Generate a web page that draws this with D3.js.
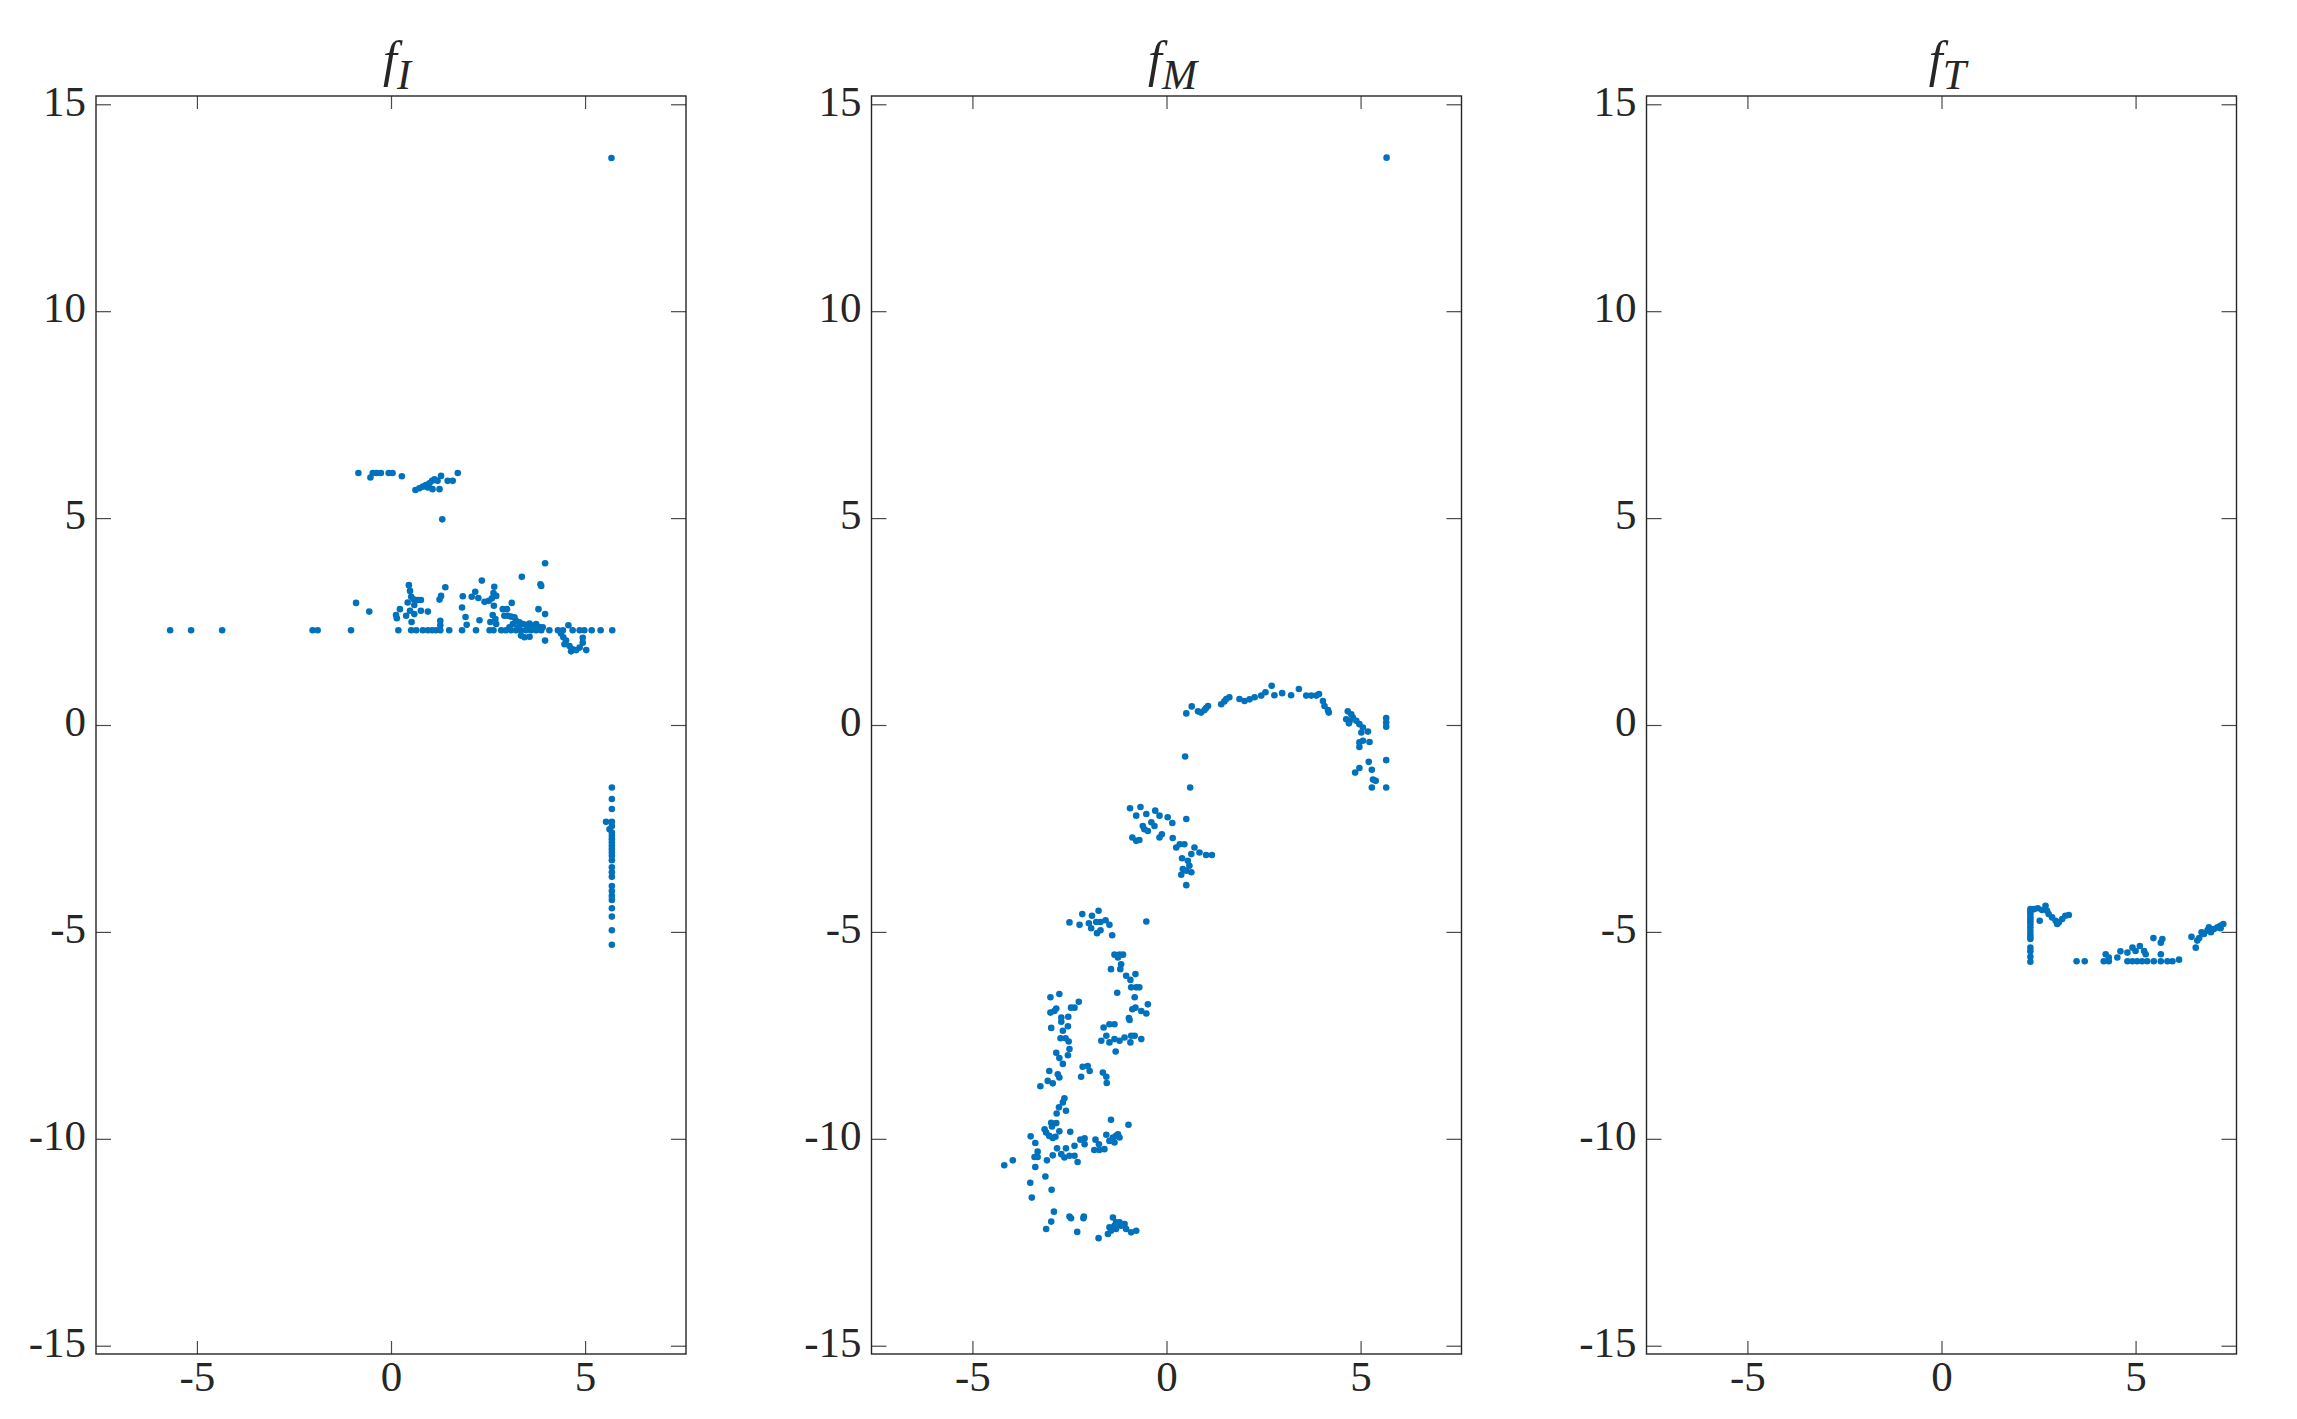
<!DOCTYPE html>
<html>
<head>
<meta charset="utf-8">
<script src="https://cdn.jsdelivr.net/npm/d3@7"></script>
<style>
  body { margin: 0; background: #fff; }
  svg text { font-family: "Liberation Serif", "DejaVu Serif", serif; fill: #262626; }
</style>
</head>
<body>
<div id="chart"></div>
<script>
const W = 2297, H = 1419;

const xTicks = [-5, 0, 5];
const yTicks = [-15, -10, -5, 0, 5, 10, 15];
const subscripts = ['I', 'M', 'T'];

// panel f_I
const fI = [
  [5.68, 13.70],
  [-0.84, 6.09], [-0.53, 5.98], [-0.47, 6.09], [-0.37, 6.09], [-0.26, 6.09], [-0.06, 6.09], [0.04, 6.09], [0.28, 6.01],
  [0.63, 5.68], [0.73, 5.72], [0.82, 5.76], [0.90, 5.80], [0.99, 5.84], [1.06, 5.90], [1.12, 5.94], [1.20, 5.90],
  [1.29, 6.02], [1.25, 5.70], [1.07, 5.70], [0.95, 5.74], [1.46, 5.90], [1.59, 5.90], [1.72, 6.09], [1.32, 4.97],
  [-5.69, 2.29], [-5.15, 2.29], [-4.35, 2.29], [-2.02, 2.29], [-1.89, 2.29], [-1.03, 2.29], [0.19, 2.29], [0.52, 2.29],
  [0.65, 2.29], [0.82, 2.29], [0.95, 2.29], [1.06, 2.29], [1.16, 2.29], [1.27, 2.29], [1.50, 2.29], [1.83, 2.29],
  [2.19, 2.29], [2.54, 2.29], [2.64, 2.29], [2.84, 2.29], [2.96, 2.29], [3.09, 2.29], [3.22, 2.29], [3.35, 2.29],
  [3.48, 2.29], [3.61, 2.29], [3.74, 2.29], [3.87, 2.29], [4.08, 2.29], [4.30, 2.29], [4.43, 2.29], [4.68, 2.29],
  [4.86, 2.29], [4.98, 2.29], [5.17, 2.29], [5.40, 2.29], [5.70, 2.29],
  [-0.90, 2.95], [-0.56, 2.74], [0.46, 3.38], [0.49, 3.24], [0.52, 3.10], [0.58, 3.04], [0.69, 3.02], [0.77, 3.02],
  [0.60, 2.90], [0.43, 2.96], [0.23, 2.80], [0.15, 2.58], [0.13, 2.66], [0.39, 2.64], [0.49, 2.76], [0.60, 2.68],
  [0.77, 2.76], [0.95, 2.74], [0.53, 2.49], [1.27, 2.52], [1.27, 2.41], [1.40, 3.33], [1.29, 3.12], [1.25, 3.03],
  [1.85, 3.11], [2.08, 3.10], [2.17, 3.22], [2.34, 3.49], [2.25, 3.07], [2.41, 2.98], [2.52, 3.00], [2.60, 3.06],
  [2.66, 3.34], [2.64, 3.19], [2.71, 3.12], [1.83, 2.84], [1.92, 2.61], [1.95, 2.42], [2.28, 2.53], [2.56, 2.49],
  [2.69, 2.56], [2.71, 2.44], [2.62, 2.66], [2.65, 2.88], [2.88, 2.80], [2.99, 2.80], [3.11, 2.95], [3.37, 3.58],
  [3.97, 3.91], [3.85, 3.40], [3.87, 3.36], [3.80, 2.80], [3.97, 2.68],
  [2.92, 2.64], [3.01, 2.64], [3.09, 2.62], [3.18, 2.60], [3.22, 2.52], [3.31, 2.48], [3.40, 2.44], [3.48, 2.42],
  [3.57, 2.45], [3.65, 2.40], [3.74, 2.44], [3.82, 2.37], [3.91, 2.36], [3.14, 2.44], [3.05, 2.36], [3.27, 2.36],
  [3.52, 2.34], [3.70, 2.32],
  [3.35, 2.16], [3.44, 2.12], [3.57, 2.13], [3.97, 2.04], [4.38, 2.21], [4.44, 2.12], [4.51, 2.04], [4.47, 1.95],
  [4.60, 1.91], [4.68, 1.83], [4.64, 1.78], [4.77, 1.81], [4.86, 1.87], [4.94, 1.99], [4.94, 2.11], [5.03, 1.81],
  [4.57, 2.41],
  [5.69, -1.51], [5.69, -1.79], [5.69, -2.03], [5.54, -2.34], [5.69, -2.34], [5.69, -2.44], [5.63, -2.52], [5.69, -2.60],
  [5.69, -2.68], [5.69, -2.76], [5.69, -2.84], [5.69, -2.92], [5.69, -3.00], [5.69, -3.08], [5.69, -3.16], [5.69, -3.27],
  [5.69, -3.44], [5.69, -3.56], [5.69, -3.67], [5.69, -3.89], [5.69, -4.01], [5.69, -4.13], [5.69, -4.23], [5.69, -4.43],
  [5.69, -4.63], [5.69, -4.96], [5.69, -5.31]
];

// panel f_M
const fM = [
  [5.67, 13.71],
  [0.51, 0.28], [0.65, 0.45], [0.81, 0.33], [0.89, 0.30], [0.98, 0.36], [1.07, 0.46], [1.02, 0.41], [1.41, 0.50],
  [1.49, 0.57], [1.62, 0.67], [1.54, 0.63], [1.88, 0.63], [2.01, 0.58], [2.14, 0.62], [2.27, 0.67], [2.44, 0.71],
  [2.55, 0.79], [2.71, 0.95], [2.78, 0.72], [2.98, 0.77], [3.21, 0.72], [3.41, 0.87], [3.60, 0.71], [3.73, 0.71],
  [3.86, 0.71], [3.93, 0.75], [4.03, 0.58], [4.07, 0.46], [4.16, 0.36], [4.18, 0.30], [4.67, 0.33], [4.63, 0.14],
  [4.72, 0.10], [4.80, 0.18], [4.89, 0.10], [4.97, 0.02], [5.06, -0.06], [5.02, -0.18], [5.19, -0.16], [4.97, -0.42],
  [5.06, -0.38], [5.23, -0.41], [4.97, -0.53], [4.70, 0.04], [4.76, 0.26], [5.66, 0.17], [5.66, 0.06], [5.66, -0.04],
  [5.66, -0.85], [5.66, -1.51], [5.29, -1.51], [5.21, -0.89], [4.97, -1.04], [4.86, -1.15], [5.29, -1.08], [5.32, -1.32],
  [5.39, -1.35], [0.48, -0.76], [0.61, -1.51], [0.51, -2.27], [-0.52, -4.75],
  [-0.94, -2.01], [-0.67, -1.98], [-0.78, -2.19], [-0.52, -2.15], [-0.29, -2.07], [-0.18, -2.19], [0.03, -2.23], [0.15, -2.37],
  [-0.57, -2.52], [-0.48, -2.56], [-0.61, -2.44], [-0.39, -2.35], [-0.31, -2.44], [-0.12, -2.64], [-0.18, -2.72], [-0.88, -2.72],
  [-0.78, -2.80], [-0.70, -2.78], [0.16, -2.73], [0.34, -2.88], [0.25, -2.96], [0.46, -2.88], [0.72, -2.96], [0.64, -3.12],
  [0.85, -3.08], [1.02, -3.14], [1.17, -3.14], [0.55, -3.28], [0.59, -3.40], [0.42, -3.48], [0.64, -3.56], [0.38, -3.62],
  [0.51, -3.87], [0.51, -3.52], [0.40, -3.22],
  [-2.50, -4.77], [-2.24, -4.83], [-2.17, -4.57], [-1.92, -4.61], [-1.75, -4.49], [-2.00, -4.79], [-1.94, -4.91], [-1.81, -4.76],
  [-1.70, -4.76], [-1.57, -4.72], [-1.47, -4.83], [-1.70, -4.96], [-1.79, -5.03], [-1.40, -5.08],
  [-1.34, -5.55], [-1.21, -5.55], [-1.12, -5.55], [-1.25, -5.62], [-1.17, -5.78], [-1.43, -5.90], [-1.19, -5.90], [-1.04, -6.06],
  [-0.80, -6.02], [-0.93, -6.16], [-0.91, -6.34], [-0.78, -6.34], [-0.70, -6.34], [-1.27, -6.47], [-0.82, -6.58], [-0.48, -6.75],
  [-0.88, -6.87], [-0.80, -6.83], [-0.65, -6.91], [-0.52, -6.97], [-0.97, -7.08], [-0.95, -7.13], [-1.62, -7.31], [-1.47, -7.23],
  [-1.34, -7.23], [-1.55, -7.51], [-1.68, -7.63], [-1.47, -7.67], [-1.34, -7.59], [-1.21, -7.63], [-1.08, -7.55], [-0.91, -7.51],
  [-0.82, -7.51], [-0.93, -7.67], [-0.65, -7.59], [-1.31, -7.89],
  [-2.99, -6.58], [-2.76, -6.50], [-2.89, -6.91], [-2.84, -6.85], [-2.46, -6.83], [-2.37, -6.83], [-2.26, -6.69], [-2.99, -6.95],
  [-2.71, -7.07], [-2.53, -7.05], [-2.97, -7.32], [-2.71, -7.17], [-2.54, -7.28], [-2.67, -7.39], [-2.73, -7.57], [-2.60, -7.57],
  [-2.52, -7.65], [-2.50, -7.83], [-2.84, -7.92], [-2.76, -8.05], [-2.54, -7.98], [-2.67, -8.19], [-3.02, -8.36], [-2.80, -8.44],
  [-2.76, -8.52], [-2.16, -8.26], [-2.03, -8.24], [-1.98, -8.36], [-2.20, -8.50], [-1.64, -8.40], [-1.55, -8.50],
  [-3.25, -8.73], [-3.06, -8.60], [-2.93, -8.66], [-1.54, -8.65], [-2.63, -9.02], [-2.67, -9.12], [-2.77, -9.24], [-2.59, -9.32],
  [-2.83, -9.39], [-1.43, -9.54], [-0.98, -9.66], [-2.97, -9.61], [-2.84, -9.62], [-2.95, -9.70], [-3.14, -9.77], [-3.10, -9.85],
  [-2.76, -9.82], [-2.48, -9.83], [-3.02, -9.93], [-2.93, -9.98], [-2.86, -9.95], [-3.50, -9.94], [-3.38, -10.10], [-3.32, -10.31],
  [-3.40, -10.44], [-3.32, -10.44], [-3.08, -10.52], [-2.93, -10.40], [-2.82, -10.23], [-2.71, -10.37], [-2.63, -10.45], [-2.59, -10.23],
  [-2.50, -10.41], [-2.37, -10.41], [-2.37, -10.17], [-2.29, -10.56], [-2.22, -10.02], [-2.11, -9.99], [-2.11, -10.13], [-1.83, -10.02],
  [-1.74, -10.13], [-1.86, -10.27], [-1.73, -10.27], [-1.60, -10.25], [-1.55, -9.90], [-1.47, -10.05], [-1.38, -9.97], [-1.30, -9.93],
  [-1.25, -9.89], [-1.21, -9.97], [-1.34, -10.09],
  [-4.18, -10.64], [-3.96, -10.52], [-3.38, -10.68], [-3.12, -10.91], [-3.51, -11.06], [-2.96, -11.23], [-3.47, -11.42], [-2.90, -11.76],
  [-2.97, -12.00], [-3.10, -12.18], [-2.50, -11.88], [-2.46, -11.92], [-2.13, -11.88], [-2.14, -11.92], [-2.30, -12.25], [-1.75, -12.40],
  [-1.38, -11.90], [-1.30, -12.02], [-1.21, -12.02], [-1.08, -12.06], [-1.04, -12.18], [-1.30, -12.18], [-1.43, -12.22], [-1.51, -12.30],
  [-0.91, -12.26], [-0.78, -12.22], [-1.17, -12.10], [-1.47, -12.14], [-1.34, -12.10]
];

// panel f_T
const fT = [
  [2.29, -4.45], [2.29, -4.51], [2.29, -4.57], [2.29, -4.64], [2.29, -4.69], [2.29, -4.75], [2.29, -4.81], [2.29, -4.89],
  [2.29, -4.97], [2.29, -5.05], [2.29, -5.12], [2.29, -5.17], [2.29, -5.38], [2.29, -5.47], [2.29, -5.60], [2.29, -5.72],
  [2.38, -4.45], [2.48, -4.43], [2.59, -4.47], [2.68, -4.37], [2.72, -4.49], [2.53, -4.73], [2.76, -4.57], [2.85, -4.65],
  [2.94, -4.73], [3.02, -4.77], [3.11, -4.69], [3.19, -4.61], [3.28, -4.59], [2.98, -4.81],
  [3.48, -5.71], [3.69, -5.71], [4.18, -5.71], [4.31, -5.71], [4.79, -5.71], [4.92, -5.71], [5.04, -5.71], [5.17, -5.71],
  [5.30, -5.71], [5.47, -5.71], [5.65, -5.71], [5.82, -5.71], [5.95, -5.71], [6.12, -5.67],
  [4.23, -5.54], [4.31, -5.62], [4.53, -5.62], [4.61, -5.47], [4.79, -5.50], [4.92, -5.38], [5.00, -5.46], [5.11, -5.34],
  [5.22, -5.46], [5.26, -5.54], [5.46, -5.15], [5.69, -5.17], [5.65, -5.26], [5.65, -5.54],
  [6.44, -5.12], [6.55, -5.38], [6.59, -5.21], [6.64, -5.15], [6.70, -5.01], [6.76, -5.05], [6.85, -4.97], [6.94, -5.01],
  [7.02, -4.93], [7.11, -4.89], [7.18, -4.85], [7.26, -4.81], [6.89, -4.89], [7.19, -4.91]
];

const panels = [fI, fM, fT];
const panelLeft = [96, 871.5, 1646.5];
const plotTop = 96, pw = 590, ph = 1258;

const fmt = d => d < 0 ? '-' + Math.abs(d) : String(d);

const svg = d3.select('#chart')
  .append('svg')
  .attr('width', W)
  .attr('height', H);

panels.forEach((pts, i) => {
  const g = svg.append('g').attr('transform', `translate(${panelLeft[i]},${plotTop})`);

  const x = d3.scaleLinear().domain([-7.6, 7.6]).range([0, pw]);
  const y = d3.scaleLinear().domain([-15.2, 15.2]).range([ph, 0]);

  const styleAxis = sel => {
    sel.attr('font-family', null);
    sel.select('.domain').remove();
    sel.selectAll('.tick line').attr('stroke', '#4a4a4a').attr('stroke-width', 1.2);
    sel.selectAll('.tick text')
      .style('font-family', '"Liberation Serif", serif')
      .style('font-size', '43px')
      .attr('fill', '#262626');
  };

  g.append('g').attr('transform', `translate(0,${ph})`)
    .call(d3.axisBottom(x).tickValues(xTicks).tickFormat(fmt).tickSize(-13).tickPadding(6))
    .call(styleAxis);
  g.append('g')
    .call(d3.axisTop(x).tickValues(xTicks).tickFormat('').tickSize(-13))
    .call(styleAxis);
  g.append('g')
    .call(d3.axisLeft(y).tickValues(yTicks).tickFormat(fmt).tickSize(-15).tickPadding(10))
    .call(styleAxis)
    .selectAll('.tick text').attr('dy', '0.25em');
  g.append('g').attr('transform', `translate(${pw},0)`)
    .call(d3.axisRight(y).tickValues(yTicks).tickFormat('').tickSize(-15))
    .call(styleAxis);

  g.append('rect')
    .attr('width', pw).attr('height', ph)
    .attr('fill', 'none')
    .attr('stroke', '#262626')
    .attr('stroke-width', 1.4);

  g.selectAll('circle.pt')
    .data(pts)
    .enter().append('circle')
    .attr('class', 'pt')
    .attr('cx', d => x(d[0]))
    .attr('cy', d => y(d[1]))
    .attr('r', 3.3)
    .attr('fill', '#0072BD');

  const title = g.append('text')
    .attr('x', pw / 2 + 6)
    .attr('y', -20)
    .attr('text-anchor', 'middle')
    .style('font-family', '"Liberation Serif", serif');
  title.append('tspan')
    .style('font-style', 'italic')
    .style('font-size', '50px')
    .text('f');
  title.append('tspan')
    .style('font-style', 'italic')
    .style('font-size', '42px')
    .attr('dy', 13)
    .text(subscripts[i]);
});
</script>
</body>
</html>
